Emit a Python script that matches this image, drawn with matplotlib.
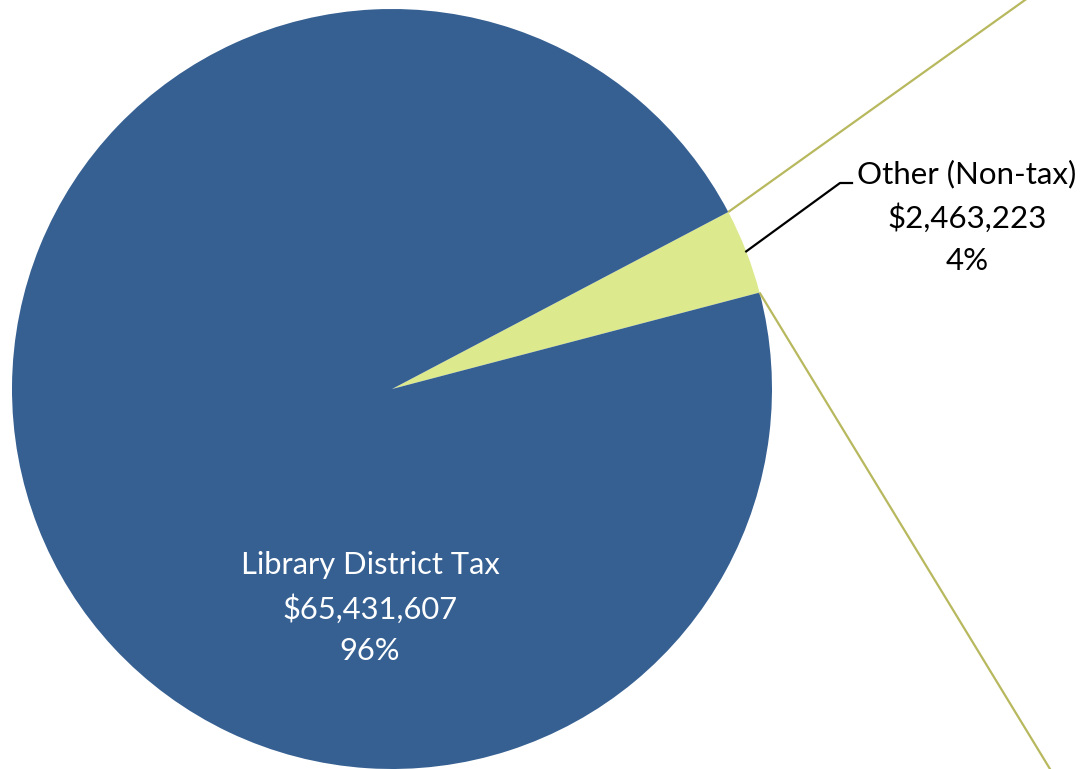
import numpy as np
import matplotlib
matplotlib.use("Agg")
import matplotlib.pyplot as plt

labels = ["Other (Non-tax)", "Library District Tax"]
amounts = [2463223, 65431607]
pcts = ["4%", "96%"]
colors = ["#DCE98D", "#366092"]

plt.rcParams['font.family'] = ['Lato', 'DejaVu Sans']

fig = plt.figure(figsize=(10.81, 7.69), dpi=100)
ax = fig.add_axes([0, 0, 1, 1])

# pie sits at pixel-ish coords, y up
cx, cy, r = 392, 380, 380
wedges, _ = ax.pie(amounts, colors=colors, startangle=14.7, counterclock=True,
                   center=(cx, cy), radius=r, wedgeprops=dict(linewidth=0))

# connector lines to the (off-canvas) secondary chart
w = wedges[0]
conn = "#B8B85E"
for th, far in [(w.theta2, (1025, 769)), (w.theta1, (1050, 0))]:
    p0 = np.array([cx + r*np.cos(np.radians(th)), cy + r*np.sin(np.radians(th))])
    p1 = np.array(far)
    p1 = p0 + (p1 - p0)*1.15
    ax.plot([p0[0], p1[0]], [p0[1], p1[1]], color=conn, lw=1.6, solid_capstyle='butt')

# leader line for small slice label
mid = np.radians((w.theta1 + w.theta2)/2)
lp = (cx + r*np.cos(mid), cy + r*np.sin(mid))
ax.plot([lp[0], 840, 852], [lp[1], 586, 586], color="black", lw=1.6)

ax.text(967, 552, f"{labels[0]}\n${amounts[0]:,}\n{pcts[0]}", ha="center", va="center",
        fontsize=22.5, color="black", linespacing=1.6)
ax.text(370, 161, f"{labels[1]}\n${amounts[1]:,}\n{pcts[1]}", ha="center", va="center",
        fontsize=22.2, color="white", linespacing=1.6)

ax.set_xlim(0, 1081)
ax.set_ylim(0, 769)
ax.set_aspect('equal')
ax.axis('off')

fig.savefig("out.png", dpi=100)
